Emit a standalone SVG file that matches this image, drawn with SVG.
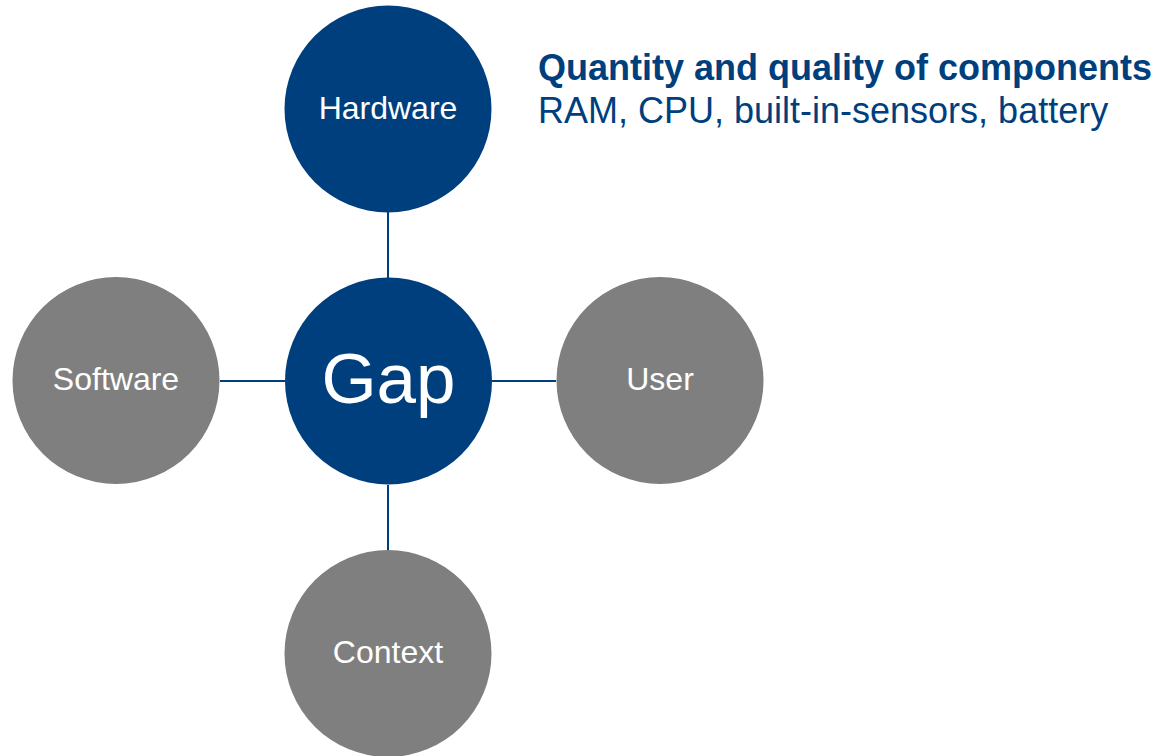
<svg xmlns="http://www.w3.org/2000/svg" width="1170" height="756" viewBox="0 0 1170 756">
  <style>
    .hub { fill: #003f7e; }
    .spoke { fill: #7f7f7f; }
    .lbl { fill: #ffffff; font-family: "Liberation Sans", Arial, sans-serif; font-size: 32px; text-anchor: middle; }
    .big { font-size: 71px; }
    .link { stroke: #003f7e; stroke-width: 2; fill: none; }
    .note { fill: #003f7e; font-family: "Liberation Sans", Arial, sans-serif; font-size: 36px; }
  </style>
  <rect width="1170" height="756" fill="#ffffff"/>

  <!-- connectors -->
  <g id="connectors">
    <line class="link" x1="388" y1="212" x2="388" y2="278"/>
    <line class="link" x1="220" y1="381" x2="285" y2="381"/>
    <line class="link" x1="492" y1="381" x2="556" y2="381"/>
    <line class="link" x1="388" y1="485" x2="388" y2="550"/>
  </g>

  <g id="hardware">
    <circle class="hub" cx="388" cy="109" r="103.5"/>
    <text class="lbl" x="388" y="119">Hardware</text>
  </g>

  <g id="gap">
    <circle class="hub" cx="388.5" cy="381" r="103.5"/>
    <text class="lbl big" x="388.5" y="403">Gap</text>
  </g>

  <g id="software">
    <circle class="spoke" cx="116" cy="380.5" r="103.5"/>
    <text class="lbl" x="116" y="390">Software</text>
  </g>

  <g id="user">
    <circle class="spoke" cx="660" cy="380.5" r="103.5"/>
    <text class="lbl" x="660" y="390">User</text>
  </g>

  <g id="context">
    <circle class="spoke" cx="388" cy="653.5" r="103.5"/>
    <text class="lbl" x="388" y="663">Context</text>
  </g>

  <g id="hardware-note">
    <text class="note" x="538" y="80" font-weight="bold">Quantity and quality of components</text>
    <text class="note" x="538" y="123">RAM, CPU, built-in-sensors, battery</text>
  </g>
</svg>
